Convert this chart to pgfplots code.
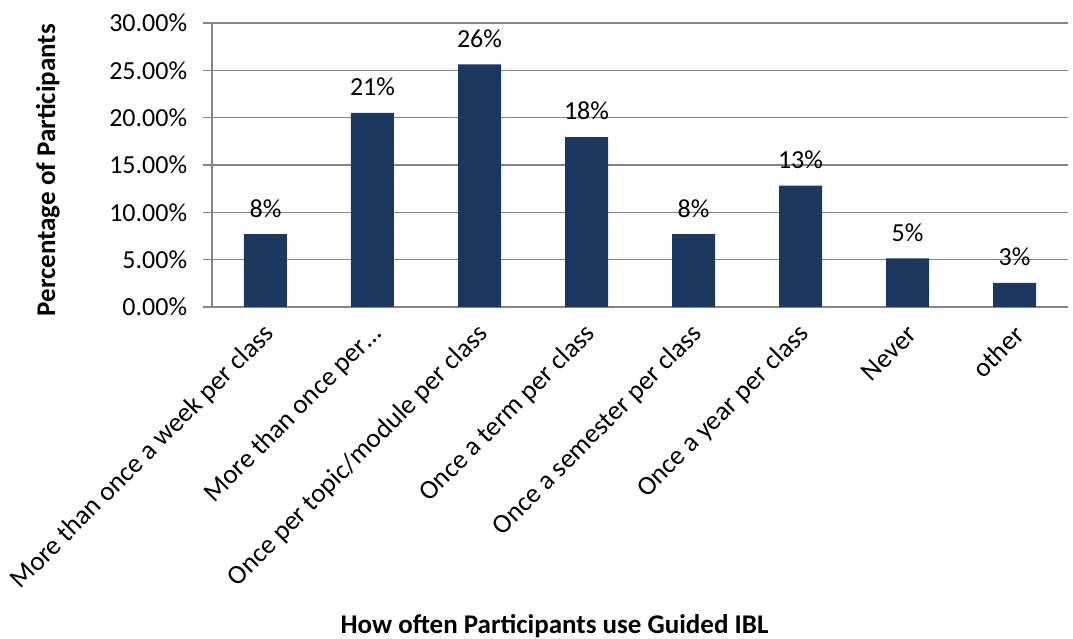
\documentclass[border=0pt]{standalone}
\usepackage{fontspec}
\setmainfont{Carlito}
\usepackage{pgfplots}
\pgfplotsset{compat=1.18}
\definecolor{barblue}{RGB}{28,56,94}
\definecolor{gridgray}{RGB}{134,134,134}
\begin{document}
\begin{tikzpicture}[x=1bp,y=1bp]
\fontsize{26bp}{30bp}\selectfont
\begin{axis}[
  at={(0,0)}, anchor=south west,
  scale only axis,
  width=856bp, height=284bp,
  xmin=-0.5, xmax=7.5,
  ymin=0, ymax=30,
  axis x line*=bottom,
  axis y line*=left,
  axis line style={gridgray, line width=1.3bp},
  ytick={0,5,10,15,20,25,30},
  yticklabels={0.00\%,5.00\%,10.00\%,15.00\%,20.00\%,25.00\%,30.00\%},
  ymajorgrids,
  grid style={gridgray, line width=1.3bp},
  major tick length=9bp,
  tick style={gridgray, line width=1.3bp},
  ytick align=outside,
  xtick={0,1,2,3,4,5,6,7},
  xticklabels={More than once a week per class,More than once per\dots,Once per topic/module per class,Once a term per class,Once a semester per class,Once a year per class,Never,other},
  x tick style={draw=none},
  minor xtick={-0.5,0.5,1.5,2.5,3.5,4.5,5.5,6.5,7.5},
  minor tick length=9bp,
  xminorgrids=false,
  minor x tick style={gridgray, line width=1.3bp},
  xtick align=outside,
  x tick label style={xshift=11bp, yshift=-8bp, rotate=45, anchor=east, font=\fontsize{27bp}{31bp}\selectfont},
  y tick label style={font=\fontsize{26bp}{30bp}\selectfont, xshift=-7bp},
  xlabel={\textbf{How often Participants use Guided IBL}},
  ylabel={\textbf{Percentage of Participants}},
  xlabel style={font=\fontsize{27bp}{31bp}\selectfont, at={(axis description cs:0.4001,-1.1232)}, anchor=center},
  ylabel style={font=\fontsize{27bp}{31bp}\selectfont, at={(axis description cs:-0.1916,0.482)}, anchor=center},
  nodes near coords,
  point meta=explicit symbolic,
  every node near coord/.append style={font=\fontsize{26bp}{30bp}\selectfont, anchor=south, yshift=8bp, black},
  clip=false,
]
\addplot[ybar, bar width=43bp, fill=barblue, draw=none] coordinates {
 (0,7.69) [8\%]
 (1,20.51) [21\%]
 (2,25.64) [26\%]
 (3,17.95) [18\%]
 (4,7.69) [8\%]
 (5,12.82) [13\%]
 (6,5.13) [5\%]
 (7,2.56) [3\%]
};
\end{axis}
\pgfresetboundingbox
\useasboundingbox (-212,-332) rectangle (861,307);
\end{tikzpicture}
\end{document}
